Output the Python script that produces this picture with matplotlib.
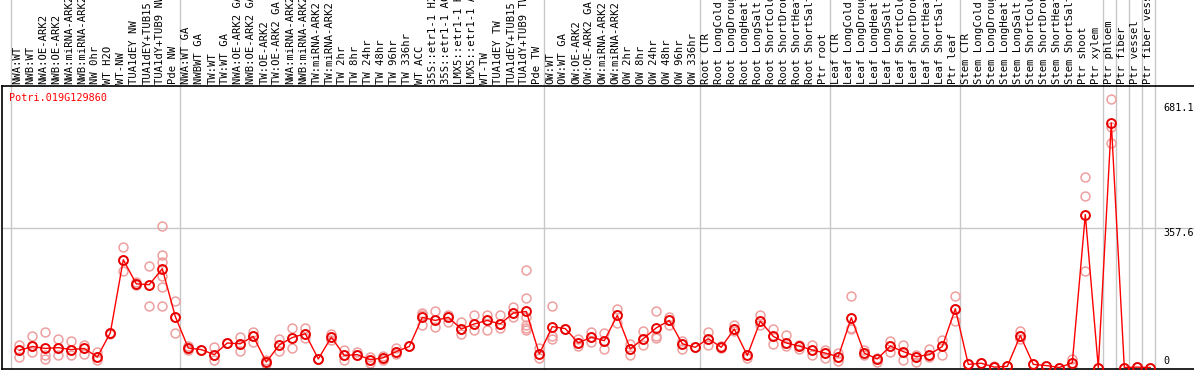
import matplotlib
matplotlib.use('Agg')
import matplotlib.pyplot as plt
import matplotlib.transforms as mtransforms

# sample labels (as shown, truncated to 14 chars)
labels = [
    # NW group
    "NWA:WT", "NWB:WT", "NWA:OE-ARK2", "NWB:OE-ARK2", "NWA:miRNA-ARK2", "NWB:miRNA-ARK2",
    "NW 0hr", "WT H2O", "WT-NW", "TUA1dEY NW", "TUA1dEY+TUB15", "TUA1dY+TUB9 NW", "Pde NW",
    # TW group
    "NWA:WT GA", "NWBWT GA", "TW:WT", "TW:WT GA", "NWA:OE-ARK2 GA", "NWB:OE-ARK2 GA",
    "TW:OE-ARK2", "TW:OE-ARK2 GA", "NWA:miRNA-ARK2", "NWB:miRNA-ARK2", "TW:miRNA-ARK2",
    "TW:miRNA-ARK2", "TW 2hr", "TW 8hr", "TW 24hr", "TW 48hr", "TW 96hr", "TW 336hr",
    "WT ACC", "35S::etr1-1 H2", "35S::etr1-1 AC", "LMX5::etr1-1 H", "LMX5::etr1-1 A",
    "WT-TW", "TUA1dEY TW", "TUA1dEY+TUB15", "TUA1dY+TUB9 TW", "Pde TW",
    # OW group
    "OW:WT", "OW:WT GA", "OW:OE-ARK2", "OW:OE-ARK2 GA", "OW:miRNA-ARK2", "OW:miRNA-ARK2",
    "OW 2hr", "OW 8hr", "OW 24hr", "OW 48hr", "OW 96hr", "OW 336hr",
    # root
    "Root CTR", "Root LongCold", "Root LongDroug", "Root LongHeat", "Root LongSalt",
    "Root ShortCold", "Root ShortDrou", "Root ShortHeat", "Root ShortSalt", "Ptr root",
    # leaf
    "Leaf CTR", "Leaf LongCold", "Leaf LongDroug", "Leaf LongHeat", "Leaf LongSalt",
    "Leaf ShortCold", "Leaf ShortDrou", "Leaf ShortHeat", "Leaf ShortSalt", "Ptr leaf",
    # stem + ptr tissues
    "Stem CTR", "Stem LongCold", "Stem LongDroug", "Stem LongHeat", "Stem LongSalt",
    "Stem ShortCold", "Stem ShortDrou", "Stem ShortHeat", "Stem ShortSalt", "Ptr shoot",
    "Ptr xylem", "Ptr phloem", "Ptr fiber", "Ptr vessel", "Ptr fiber vess",
]

# index where each group starts (separator lines)
group_starts = [0, 13, 41, 53, 63, 73, 84, 85, 86, 87, 88]

gene_id = "Potri.019G129860"
tick_values = [681.1, 357.6, 0]

mean_values = [
    44, 54, 49, 51, 46, 49, 27, 89, 277, 215,
    213, 254, 131, 50, 46, 33, 63, 61, 80, 14,
    58, 77, 87, 22, 78, 31, 33, 20, 25, 41,
    54, 129, 121, 129, 99, 112, 121, 112, 140, 144,
    35, 105, 100, 63, 78, 69, 134, 48, 74, 102,
    121, 61, 52, 74, 52, 99, 31, 119, 80, 63,
    55, 45, 37, 28, 128, 37, 22, 55, 41, 28,
    33, 54, 151, 8, 11, 1, 3, 82, 8, 5,
    0, 12, 393, 0, 629, 0, 1, 0,
]

replicates = [
    [58, 44, 26], [80, 54, 39], [92, 31, 22], [74, 51, 31], [69, 46, 31],
    [59, 49, 35], [39, 27, 20], [89, 85], [311, 277, 249], [219, 215, 212],
    [260, 213, 159], [365, 290, 270, 236, 208, 159], [172, 131, 89], [55, 50, 44], [46, 46],
    [52, 33, 20], [62, 63], [78, 61, 42], [92, 80, 65], [20, 14, 10],
    [74, 58, 42], [102, 77, 51], [101, 87, 76], [22, 22], [87, 78, 71],
    [44, 31, 20], [39, 33, 31], [28, 20, 11], [30, 25, 18], [50, 41, 35],
    [54, 54], [140, 135, 110], [145, 121, 104], [135, 129, 117], [116, 99, 87],
    [135, 112, 97], [134, 121, 97], [135, 112, 101], [155, 140, 131],
    [251, 179, 129, 110, 102, 97],
    [50, 35, 25], [157, 80, 74], [100, 100], [74, 63, 55], [92, 78, 65],
    [88, 69, 48], [151, 134, 114], [61, 48, 33], [95, 74, 58], [144, 82, 76],
    [129, 121, 110], [69, 61, 48], [52, 52], [92, 74, 59], [55, 52, 50],
    [108, 99, 93], [31, 25], [134, 119, 108], [99, 80, 61], [84, 63, 54],
    [59, 55, 48], [59, 45, 33], [44, 37, 25], [37, 28, 16], [185, 101, 98],
    [44, 37, 31], [25, 22, 14], [69, 55, 39], [57, 41, 18], [33, 28, 14],
    [48, 33, 26], [71, 54, 33], [185, 151, 119], [8, 8], [11, 11],
    [3, 1], [5, 3], [95, 82, 74], [8], [5],
    [0], [22, 12, 3], [490, 441, 248], [0], [691, 618, 578],
    [0], [1], [0],
]

W, H = 1194, 370
fig = plt.figure(figsize=(W / 100, H / 100), dpi=100)
# plot area: left spine at x=1.5px, top line at y=86px, bottom at y=369px
ax = fig.add_axes([1.5 / W, 1 / H, 1 - 1.5 / W, (369 - 86) / H])

x_pos = list(range(len(labels)))
ax.set_xlim((1.5 - 19.3) / 13, (W - 19.3) / 13)
ax.set_ylim((367.5 - 369) / 0.389, (367.5 - 86) / 0.389)

grid_col = '#c8c8c8'
for k in group_starts:
    ax.axvline(k - 0.64, ymin=0, ymax=369 / 283, color=grid_col, lw=1,
               clip_on=False, zorder=1)
ax.axhline(357.6, color=grid_col, lw=1, zorder=1)

# replicate points
for i, reps in enumerate(replicates):
    ax.plot([i] * len(reps), reps, 'o', ms=6.4, mfc='none', mec='#ee9f9f',
            mew=1.1, zorder=2, clip_on=False)

# mean line
ax.plot(x_pos, mean_values, '-', color='red', lw=1, zorder=3)
ax.plot(x_pos, mean_values, 'o', ms=6.4, mfc='none', mec='#e80000',
        mew=1.4, zorder=4)

ax.spines['right'].set_visible(False)
for s in ['left', 'top', 'bottom']:
    ax.spines[s].set_color('black')
    ax.spines[s].set_linewidth(1.2)
ax.set_xticks([])
ax.set_yticks([])

mono = 'DejaVu Sans Mono'
trans = mtransforms.blended_transform_factory(ax.transData, ax.transAxes)
for i, lab in enumerate(labels):
    ax.text(i - 0.15, (369 - 84) / 283, lab, rotation=90, rotation_mode='anchor',
            ha='left', va='center', fontsize=7.6, family=mono,
            transform=trans, clip_on=False)

ax.text((9 - 1.5) / (W - 1.5), (369 - 98) / 283, gene_id, color='red',
        fontsize=7.3, family=mono, ha='left', va='center', transform=ax.transAxes)

tx = mtransforms.blended_transform_factory(ax.transAxes, ax.transData)
for v in tick_values:
    ax.text((1163 - 1.5) / (W - 1.5), v if v > 0 else 3, f'{v:g}',
            va='top' if v > 0 else 'bottom', ha='left', fontsize=7.3,
            family=mono, transform=tx)

fig.savefig('out.png', dpi=100)
